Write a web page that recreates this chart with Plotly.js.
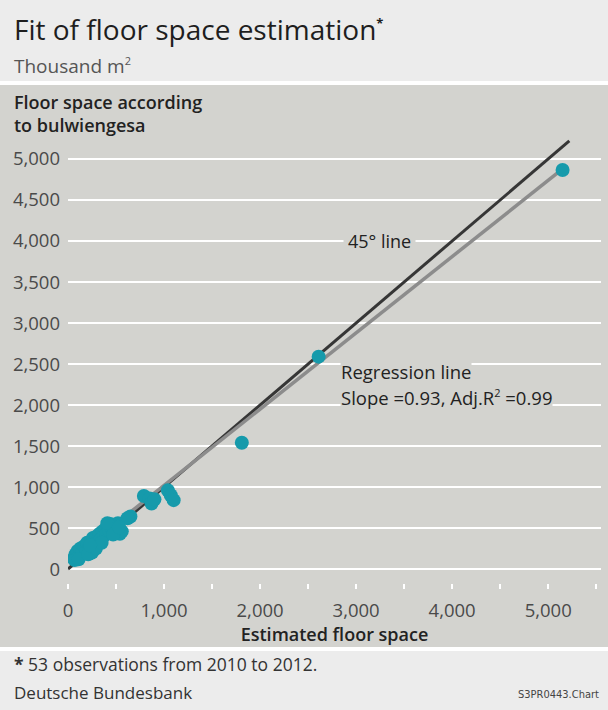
<!DOCTYPE html>
<html>
<head>
<meta charset="utf-8">
<script src="https://cdn.plot.ly/plotly-3.0.1.min.js"></script>
<style>
html,body{margin:0;padding:0;background:#fff;}
#chart{width:608px;height:710px;}
</style>
</head>
<body>
<div id="chart"></div>
<script>
// ---- data (thousand m²) ----
const obsX = [5150, 2610, 1810,
  790, 850, 870, 900, 1040, 1070, 1100,
  650, 620,
  60, 80, 90, 100, 120, 130, 150, 170, 190, 200, 220, 240, 250, 260, 280, 300, 310, 330, 340, 360,
  370, 390, 400, 420, 430, 440, 460, 480, 500, 520, 540, 560, 70, 110, 210, 290, 350, 410, 470, 530, 230];
const obsY = [4866, 2590, 1540,
  890, 860, 800, 850, 960, 900, 840,
  640, 620,
  130, 180, 150, 220, 160, 250, 200, 280, 230, 320, 260, 340, 200, 380, 300, 400, 340, 430, 360, 460,
  400, 490, 430, 520, 470, 550, 500, 540, 470, 560, 430, 460, 110, 120, 180, 250, 320, 560, 420, 510, 290];
const line45X = [0, 5220];
const line45Y = [0, 5220];
const regSlope = 0.93;
const regIntercept = 90;
const regX = [0, 5140];
const regY = regX.map(x => regSlope * x + regIntercept);
const yTickVals = [0, 500, 1000, 1500, 2000, 2500, 3000, 3500, 4000, 4500, 5000];
const yTickText = ['0', '500', '1,000', '1,500', '2,000', '2,500', '3,000', '3,500', '4,000', '4,500', '5,000'];
const xTickVals = [0, 1000, 2000, 3000, 4000, 5000];
const xTickText = ['0', '1,000', '2,000', '3,000', '4,000', '5,000'];

// ---- layout helpers ----
const W = 608, H = 710;
const px = v => v / W;
const py = v => 1 - v / H;
const FONT = 'Open Sans, Noto Sans, sans-serif';
const PANEL = '#d3d3cf';
const LIGHT = '#ececec';

const traces = [
  {x: line45X, y: line45Y, type: 'scatter', mode: 'lines',
   line: {color: '#363636', width: 3}, hoverinfo: 'skip'},
  {x: regX, y: regY, type: 'scatter', mode: 'lines',
   line: {color: '#8c8c8c', width: 3.5}, hoverinfo: 'skip'},
  {x: obsX, y: obsY, type: 'scatter', mode: 'markers',
   marker: {color: '#169aab', size: 14, line: {width: 0}}}
];

const layout = {
  width: W, height: H,
  margin: {l: 0, r: 0, t: 0, b: 0},
  paper_bgcolor: '#ffffff',
  plot_bgcolor: 'rgba(0,0,0,0)',
  showlegend: false,
  font: {family: FONT, color: '#4a4a4a', size: 18},
  xaxis: {
    domain: [px(68), px(601)],
    range: [0, 5550],
    tickvals: xTickVals, ticktext: xTickText,
    showgrid: false, zeroline: false, showline: false,
    ticks: 'outside', ticklen: 5, tickwidth: 2, tickcolor: '#ffffff',
    minor: {dtick: 500, ticks: 'outside', ticklen: 5, tickwidth: 2, tickcolor: '#ffffff', showgrid: false},
    ticklabelstandoff: 6,
    tickfont: {family: FONT, size: 18.5, color: '#4a4a4a'},
    title: {text: 'Estimated floor space', font: {family: FONT, size: 18, color: '#222', weight: 600}, standoff: 0},
    fixedrange: true
  },
  yaxis: {
    domain: [py(583), py(138.5)],
    range: [-170, 5250],
    tickvals: yTickVals, ticktext: yTickText,
    showgrid: true, gridcolor: '#ffffff', gridwidth: 2,
    zeroline: false, showline: false, ticks: '',
    ticklabelstandoff: 7,
    tickfont: {family: FONT, size: 18.5, color: '#4a4a4a'},
    fixedrange: true
  },
  shapes: [
    {type: 'rect', xref: 'paper', yref: 'paper', x0: 0, x1: 1, y0: py(81), y1: 1,
     fillcolor: LIGHT, line: {width: 0}, layer: 'below'},
    {type: 'rect', xref: 'paper', yref: 'paper', x0: 0, x1: 1, y0: py(647), y1: py(85),
     fillcolor: PANEL, line: {width: 0}, layer: 'below'},
    {type: 'rect', xref: 'paper', yref: 'paper', x0: 0, x1: 1, y0: 0, y1: py(651),
     fillcolor: LIGHT, line: {width: 0}, layer: 'below'}
  ],
  annotations: [
    {xref: 'paper', yref: 'paper', x: px(12), y: py(29), xanchor: 'left', yanchor: 'middle',
     showarrow: false, text: 'Fit of floor space estimation<sup><span style="font-size:13px"><b>*</b></span></sup>',
     font: {family: FONT, size: 28, color: '#1e1e1e', weight: 500}},
    {xref: 'paper', yref: 'paper', x: px(12), y: py(66), xanchor: 'left', yanchor: 'middle',
     showarrow: false, text: 'Thousand m<sup><span style="font-size:11px">2</span></sup>',
     font: {family: FONT, size: 19, color: '#555'}},
    {xref: 'paper', yref: 'paper', x: px(12), y: py(113), xanchor: 'left', yanchor: 'middle',
     showarrow: false, align: 'left', text: 'Floor space according<br>to bulwiengesa',
     font: {family: FONT, size: 18, color: '#222', weight: 600}},
    {xref: 'x', yref: 'y', x: 3240, y: 4000, xanchor: 'center', yanchor: 'middle',
     showarrow: false, text: '45° line', bgcolor: PANEL, borderpad: 4,
     font: {family: FONT, size: 18, color: '#222'}},
    {xref: 'x', yref: 'y', x: 2830, y: 2095, xanchor: 'left', yanchor: 'middle',
     showarrow: false, text: 'Slope =0.93, Adj.R<sup><span style="font-size:11px">2</span></sup> =0.99', bgcolor: PANEL, borderpad: 0,
     font: {family: FONT, size: 18.5, color: '#222'}},
    {xref: 'x', yref: 'y', x: 2830, y: 2410, xanchor: 'left', yanchor: 'middle',
     showarrow: false, text: 'Regression line', bgcolor: PANEL, borderpad: 0,
     font: {family: FONT, size: 18.5, color: '#222'}},
    {xref: 'paper', yref: 'paper', x: px(12), y: py(664), xanchor: 'left', yanchor: 'middle',
     showarrow: false, text: '<b>*</b> 53 observations from 2010 to 2012.',
     font: {family: FONT, size: 17.5, color: '#333'}},
    {xref: 'paper', yref: 'paper', x: px(12), y: py(692), xanchor: 'left', yanchor: 'middle',
     showarrow: false, text: 'Deutsche Bundesbank',
     font: {family: FONT, size: 17, color: '#333'}},
    {xref: 'paper', yref: 'paper', x: px(601), y: py(694), xanchor: 'right', yanchor: 'middle',
     showarrow: false, text: 'S3PR0443.Chart',
     font: {family: 'DejaVu Sans Condensed, Liberation Sans Narrow, sans-serif', size: 11, color: '#444'}}
  ]
};

Plotly.newPlot('chart', traces, layout, {displayModeBar: false, staticPlot: true});
</script>
</body>
</html>
